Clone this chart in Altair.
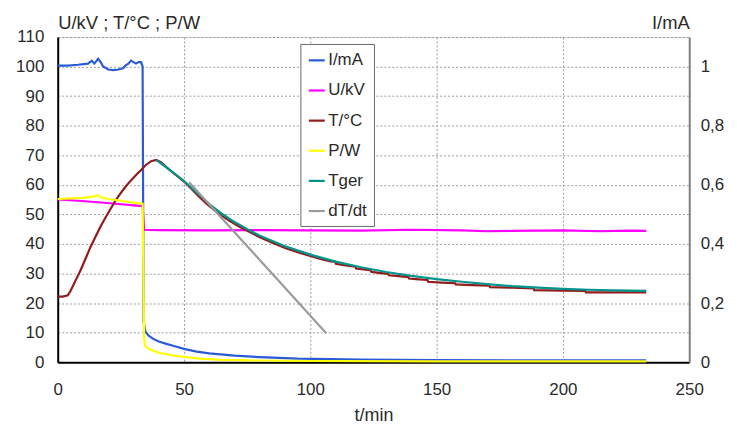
import altair as alt
import pandas as pd

# ---- data ----
series_names = ["I/mA", "U/kV", "T/°C", "P/W", "Tger", "dT/dt"]
series_colors = ["#2a5bd7", "#ff00ff", "#941b1b", "#ffff00", "#00948c", "#9a9a9a"]
series_widths = [2.2, 2.2, 2.2, 2.2, 2.2, 1]

I_t = [0, 4, 8, 12, 13.5, 14.5, 16, 17, 18, 20, 22, 24, 26, 27, 28, 29, 30, 31, 32, 33, 33.6,
       34.0, 34.5, 35, 36, 38, 40, 43, 46, 50, 55, 60, 70, 80, 95, 120, 150, 200, 233]
I_v = [1.003, 1.003, 1.006, 1.01, 1.02, 1.01, 1.026, 1.015, 1.0, 0.99, 0.988, 0.99, 0.995, 1.005, 1.01, 1.02, 1.015, 1.01, 1.015, 1.015, 1.0,
       0.14, 0.11, 0.10, 0.09, 0.078, 0.07, 0.062, 0.055, 0.045, 0.036, 0.03, 0.022, 0.017, 0.012, 0.009, 0.007, 0.006, 0.006]

U_t = [0, 8, 16, 24, 33.6, 34.2, 40, 60, 80, 100, 120, 140, 160, 170, 180, 200, 215, 225, 233]
U_v = [55.1, 54.6, 54.1, 53.5, 52.8, 44.8, 44.7, 44.6, 44.7, 44.6, 44.5, 44.8, 44.6, 44.3, 44.4, 44.6, 44.3, 44.5, 44.4]

T_t = [0, 2, 4, 5, 7, 9, 11, 13, 15, 17, 19, 21, 23, 25, 27, 29, 31, 33, 35, 37, 39, 41, 43, 45, 48, 50,
       53, 56, 59, 62, 65, 68, 72, 76, 80, 85, 90, 95, 100, 104, 108, 109.9, 110.1, 114, 117.9, 118.1,
       121, 123.9, 124.1, 127, 130.9, 131.1, 135, 138.9, 139.1, 143, 146.4, 146.6, 152, 157.4, 157.6,
       164, 170.9, 171.1, 180, 188.4, 188.6, 200, 208.9, 209.1, 220, 233]
T_v = [22.2, 22.2, 22.6, 24.0, 27.5, 31.0, 35.0, 39.0, 42.5, 46.0, 49.0, 52.0, 54.8, 57.3, 59.5, 61.5, 63.3, 65.0, 66.8, 68.0, 68.4, 67.6, 66.0, 64.5, 62.5, 61.1,
       58.6, 56.0, 53.5, 51.4, 49.5, 47.8, 45.8, 44.0, 42.3, 40.4, 38.6, 37.2, 35.9, 34.9, 34.1, 34.0, 33.3, 32.7, 32.3, 31.7,
       31.4, 31.1, 30.6, 30.2, 29.9, 29.4, 29.1, 28.8, 28.3, 28.0, 27.8, 27.2, 26.9, 26.7, 26.3,
       26.1, 25.9, 25.4, 25.2, 25.0, 24.4, 24.2, 24.1, 23.6, 23.6, 23.6]

P_t = [0, 5, 10, 14, 16, 17, 20, 25, 30, 33.6, 34.2, 34.6, 36, 38, 40, 43, 46, 50, 56, 65, 75, 100, 150, 200, 233]
P_v = [55.2, 55.4, 55.6, 56.0, 56.5, 55.8, 55.2, 54.6, 54.0, 53.6, 8.0, 5.5, 4.5, 3.8, 3.2, 2.7, 2.2, 1.8, 1.2, 0.8, 0.6, 0.4, 0.3, 0.3, 0.3]

Tg_t = [39, 45, 50, 55, 60, 65, 70, 75, 80, 90, 100, 110, 120, 130, 140, 150, 160, 170, 180, 190, 200, 210, 220, 233]
Tg_v = [68.4, 64.6, 61.3, 57.4, 53.5, 50.2, 47.4, 45.0, 42.8, 39.2, 36.4, 34.0, 32.1, 30.5, 29.2, 28.1, 27.2, 26.4, 25.7, 25.2, 24.8, 24.5, 24.3, 24.1]

dT_t = [52, 106.3]
dT_v = [60.9, 9.8]

x_ticks = [0, 50, 100, 150, 200, 250]
left_ticks = [0, 10, 20, 30, 40, 50, 60, 70, 80, 90, 100, 110]
right_ticks = [0, 0.2, 0.4, 0.6, 0.8, 1]

rows = []
for name, ts, vs in [("I/mA", I_t, I_v), ("U/kV", U_t, U_v), ("T/°C", T_t, T_v),
                     ("P/W", P_t, P_v), ("Tger", Tg_t, Tg_v), ("dT/dt", dT_t, dT_v)]:
    for t, v in zip(ts, vs):
        rows.append({"t": t, "v": v, "series": name})
df = pd.DataFrame(rows)

FONT = "Liberation Sans"
TXT = "#2a2a2a"

x_enc = alt.X("t:Q", scale=alt.Scale(domain=[0, 250], nice=False),
              axis=alt.Axis(values=x_ticks, title="t/min", labelFontSize=17, titleFontSize=18,
                            titleFontWeight="normal", titleY=59, titleBaseline="alphabetic",
                            grid=True, gridDash=[2, 2], gridColor="#9a9a9a", gridWidth=1,
                            ticks=False, tickSize=0, labelPadding=19, labelFlush=False,
                            domainColor="#000000", domainWidth=2, labelColor=TXT, titleColor=TXT))

color_enc = alt.Color("series:N", scale=alt.Scale(domain=series_names, range=series_colors),
                      legend=alt.Legend(title=None, orient="none", legendX=244, legendY=7,
                                        symbolType="stroke", symbolSize=256, symbolStrokeWidth=2.5,
                                        labelFontSize=17, labelFont=FONT, labelColor=TXT,
                                        rowPadding=12.3, padding=7, labelOffset=2,
                                        strokeColor="#6a6a6a", fillColor="white"))
width_enc = alt.StrokeWidth("series:N", scale=alt.Scale(domain=series_names, range=series_widths), legend=None)

left_layer = alt.Chart(df).transform_filter(
    alt.datum.series != "I/mA"
).mark_line(interpolate="linear").encode(
    x=x_enc,
    y=alt.Y("v:Q", scale=alt.Scale(domain=[0, 110], nice=False),
            axis=alt.Axis(values=left_ticks, title="U/kV ; T/°C ; P/W", titleAngle=0, titleX=0, titleY=-15,
                          titleAlign="left", titleBaseline="middle", titleFontSize=18.5, titleFontWeight="normal",
                          labelFontSize=17, grid=True, gridDash=[2, 2], gridColor="#9a9a9a", gridWidth=1,
                          ticks=False, tickSize=0, labelPadding=14, labelFlush=False,
                          domainColor="#000000", domainWidth=2, labelColor=TXT, titleColor=TXT)),
    color=color_enc,
    strokeWidth=width_enc,
)

right_layer = alt.Chart(df).transform_filter(
    alt.datum.series == "I/mA"
).mark_line(interpolate="linear").encode(
    x=x_enc,
    y=alt.Y("v:Q", scale=alt.Scale(domain=[0, 1.1], nice=False),
            axis=alt.Axis(orient="right", values=right_ticks,
                          labelExpr="replace(toString(datum.value), '.', ',')",
                          title="I/mA", titleAngle=0, titleX=-38, titleY=-15, titleAlign="left",
                          titleBaseline="middle", titleFontSize=18.5, titleFontWeight="normal",
                          labelFontSize=17, grid=False, ticks=False, tickSize=0, labelPadding=11,
                          labelFlush=False, domainColor="#808080", domainWidth=2,
                          labelColor=TXT, titleColor=TXT)),
    color=color_enc,
    strokeWidth=width_enc,
)

chart = alt.layer(right_layer, left_layer).resolve_scale(y="independent").properties(
    width=635, height=327,
    autosize=alt.AutoSizeParams(type="none"),
    padding={"left": 50, "top": 28, "right": 40, "bottom": 62},
    background="white",
).configure_view(stroke="#808080", strokeWidth=2).configure(font=FONT)

chart.save("out.html", embed_options={"renderer": "svg", "actions": False})
